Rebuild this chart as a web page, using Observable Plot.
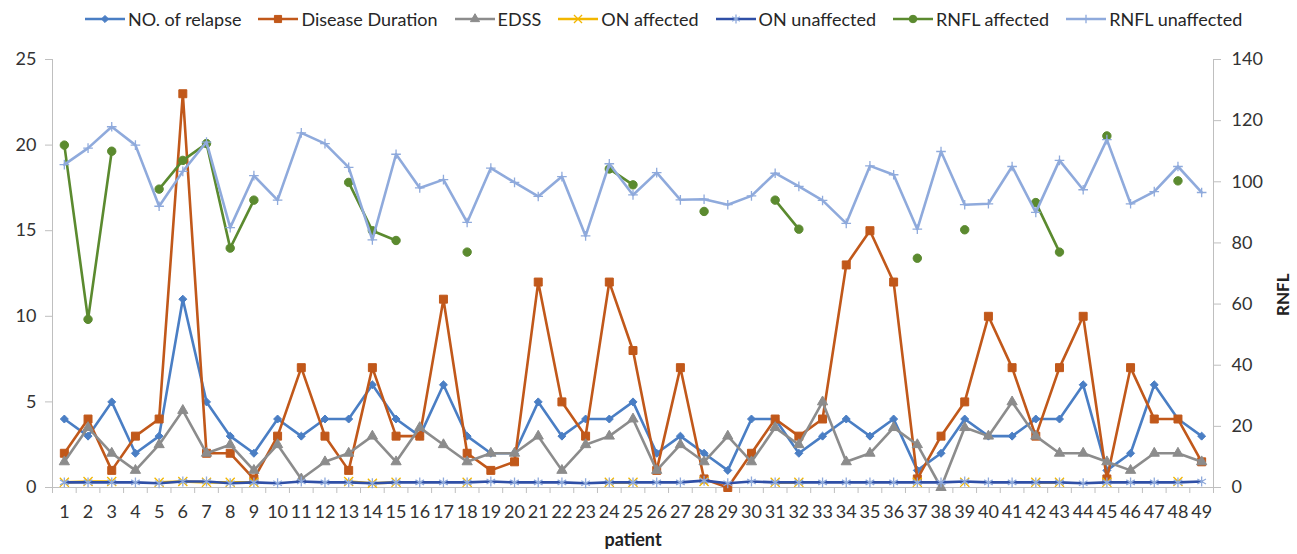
<!DOCTYPE html>
<html><head><meta charset="utf-8">
<script src="https://cdn.jsdelivr.net/npm/d3@7"></script>
<script src="https://cdn.jsdelivr.net/npm/@observablehq/plot@0.6"></script>
<style>
body{margin:0;background:#fff;}
#wrap{position:relative;width:1297px;height:554px;font-family:Lato,"Open Sans",sans-serif;color:#333;background:#fff;overflow:hidden;}
#legend{position:absolute;top:7px;left:85px;display:flex;gap:17px;align-items:center;font-size:18px;white-space:nowrap;line-height:24px;color:#262626;}
.item{display:flex;align-items:center;gap:3px;}
#chart{position:absolute;top:38px;left:0;}
</style></head><body>
<div id="wrap"><div id="legend"></div><div id="chart"></div></div>
<script>
// ---- data ----
const patients = [1,2,3,4,5,6,7,8,9,10,11,12,13,14,15,16,17,18,19,20,21,22,23,24,25,26,27,28,29,30,31,32,33,34,35,36,37,38,39,40,41,42,43,44,45,46,47,48,49];
const relapse = [4,3,5,2,3,11,5,3,2,4, 3,4,4,6,4,3,6,3,2,2, 5,3,4,4,5,2,3,2,1,4, 4,2,3,4,3,4,1,2,4,3, 3,4,4,6,1,2,6,4,3];
const duration = [2,4,1,3,4,23,2,2,0.5,3, 7,3,1,7,3,3,11,2,1,1.5, 12,5,3,12,8,1,7,0.5,0,2, 4,3,4,13,15,12,0.5,3,5,10, 7,3,7,10,0.5,7,4,4,1.5];
const edss = [1.5,3.5,2,1,2.5,4.5,2,2.5,1,2.5, 0.5,1.5,2,3,1.5,3.5,2.5,1.5,2,2, 3,1,2.5,3,4,1,2.5,1.5,3,1.5, 3.5,2.5,5,1.5,2,3.5,2.5,0,3.5,3, 5,3,2,2,1.5,1,2,2,1.5];
const onAffected = [0.3,0.35,0.35,null,0.3,0.35,0.3,0.3,0.3,null, null,null,0.35,0.25,0.3,null,null,0.3,null,null, null,null,null,0.3,0.3,null,null,0.35,null,null, 0.3,0.3,null,null,null,null,0.3,null,0.3,null, null,0.3,0.3,null,0.3,null,null,0.35,null];
const onUnaffected = [0.3,0.3,0.3,0.3,0.25,0.35,0.35,0.25,0.3,0.25, 0.35,0.3,0.3,0.25,0.3,0.3,0.3,0.3,0.35,0.3, 0.3,0.3,0.25,0.3,0.3,0.3,0.3,0.4,0.25,0.35, 0.3,0.3,0.3,0.3,0.3,0.3,0.3,0.3,0.35,0.3, 0.3,0.3,0.3,0.25,0.3,0.3,0.3,0.3,0.35];
const rnflAffected = [112,55,110,null,97.6,107,112.5,78.3,94,null, null,null,99.8,84,80.8,null,null,77,null,null, null,null,null,104.2,99,null,null,90.3,null,null, 94,84.5,null,null,null,null,75,null,84.3,null, null,93.2,77,null,115,null,null,100.3,null];
const rnflUnaffected = [105.6,111,118,112,92,103.4,113,85,102,94, 116,112.5,104.7,81,109,98,100.7,86.7,104.5,99.8, 95.2,101.7,82.3,105.9,95.7,103,94.1,94.3,92.5,95.4, 102.8,98.5,93.9,86.4,105.2,102.3,84.5,109.9,92.5,92.8, 105,90,107,97.4,113.8,92.8,96.8,105,96.5];
const leftTicks = [0,5,10,15,20,25];
const rnflTicks = [0,20,40,60,80,100,120,140];
const seriesNames = ["NO. of relapse","Disease Duration","EDSS","ON affected","ON unaffected","RNFL affected","RNFL unaffected"];

// ---- styling ----
const k = 25/140;
const rows = patients.map((p,i)=>({p, relapse:relapse[i], duration:duration[i], edss:edss[i], onA:onAffected[i], onU:onUnaffected[i], rnflA:rnflAffected[i], rnflU:rnflUnaffected[i]}));
const series = [
 {key:"relapse", color:"#4A7EC4", mcolor:"#4A7EC4", symbol:"diamond2", r:3.6, fill:true, right:false},
 {key:"duration", color:"#C1581A", mcolor:"#C1581A", symbol:"square", r:4.5, fill:true, right:false},
 {key:"edss", color:"#8C8C8C", mcolor:"#8C8C8C", symbol:"triangle", r:3.8, fill:true, right:false},
 {key:"onA", color:"#F2B600", mcolor:"#F2B600", symbol:"times", r:4.2, fill:false, right:false},
 {key:"onU", color:"#2F4FA6", mcolor:"#8FAADC", symbol:"asterisk", r:4.7, fill:false, right:false},
 {key:"rnflA", color:"#5B8A2F", mcolor:"#5B8A2F", symbol:"circle", r:4.2, fill:true, right:true},
 {key:"rnflU", color:"#8FAADC", mcolor:"#8FAADC", symbol:"plus", r:3.2, fill:false, right:true}
];
series.forEach((s,i)=> s.name = seriesNames[i]);

const marks = [
  Plot.ruleX([0.5], {stroke:"#bfbfbf", strokeWidth:1}),
  Plot.ruleX([49.5], {stroke:"#bfbfbf", strokeWidth:1}),
  Plot.axisY({ticks:leftTicks, tickSize:7, tickFormat:()=>"", stroke:"#bfbfbf", label:null}),
  Plot.axisY({ticks:leftTicks, tickSize:0, tickPadding:16, label:null, fontSize:18}),
  Plot.axisY({anchor:"right", ticks:rnflTicks.map(t=>t*k), tickSize:7, tickFormat:()=>"", stroke:"#bfbfbf", label:null}),
  Plot.axisY({anchor:"right", ticks:rnflTicks.map(t=>t*k), tickSize:0, tickPadding:18, tickFormat:d=>Math.round(d/k), label:null, fontSize:18}),
  Plot.axisX({ticks:patients.map(p=>p-0.5).concat([49.5]), tickSize:6, tickFormat:()=>"", stroke:"#bfbfbf", label:null}),
  Plot.axisX({ticks:patients, tickSize:0, tickPadding:18, tickFormat:d=>String(d), label:null, fontSize:18}),
  Plot.ruleY([0], {stroke:"#bfbfbf", strokeWidth:1}),
  Plot.text(["patient"], {frameAnchor:"bottom", dy:58, fontWeight:"bold", fontSize:18, fill:"#222"}),
  Plot.text(["RNFL"], {frameAnchor:"right", dx:70, rotate:-90, fontWeight:"bold", fontSize:17, fill:"#222"})
];
for (const s of series) {
  const yf = d => d[s.key] == null ? NaN : (s.right ? d[s.key]*k : d[s.key]);
  marks.push(Plot.line(rows, {x:"p", y:yf, stroke:s.color, strokeWidth:2.6, strokeLinejoin:"round"}));
  marks.push(Plot.dot(rows, {x:"p", y:yf, symbol:()=>s.symbol, r:s.r,
    fill: s.fill ? s.mcolor : "none", stroke: s.mcolor, strokeWidth: s.fill ? 1 : 1.3}));
}

const chart = Plot.plot({
  width:1297, height:516,
  marginTop:21, marginBottom:67, marginLeft:52, marginRight:84,
  x:{type:"linear", domain:[0.5,49.5]},
  y:{domain:[0,25]},
  style:{fontFamily:"Lato, 'Open Sans', sans-serif", fontSize:"18px", color:"#333", background:"white", overflow:"visible"},
  marks
});
document.getElementById("chart").appendChild(chart);

// ---- legend ----
const legend = d3.select("#legend");
const symMap = {diamond2:d3.symbolDiamond2, square:d3.symbolSquare, triangle:d3.symbolTriangle, times:d3.symbolTimes, asterisk:d3.symbolAsterisk, circle:d3.symbolCircle, plus:d3.symbolPlus};
for (const s of series) {
  const it = legend.append("div").attr("class","item");
  const sv = it.append("svg").attr("width",40).attr("height",16);
  sv.append("line").attr("x1",0).attr("x2",40).attr("y1",8).attr("y2",8).attr("stroke",s.color).attr("stroke-width",2.6);
  sv.append("path").attr("transform","translate(20,8)")
    .attr("d", d3.symbol(symMap[s.symbol], Math.PI*s.r*s.r*0.8)())
    .attr("fill", s.fill ? s.mcolor : "none").attr("stroke", s.mcolor).attr("stroke-width", s.fill?1:1.3);
  it.append("span").text(s.name);
}
</script>
</body></html>
